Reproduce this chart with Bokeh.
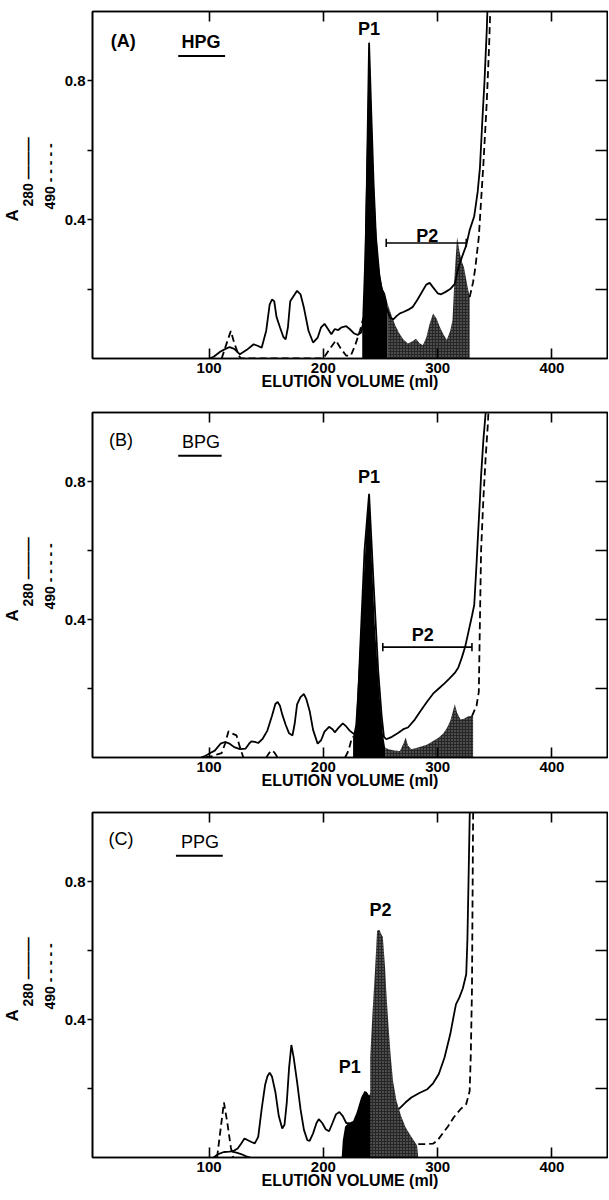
import math
from bokeh.plotting import figure
from bokeh.models import Range1d, FixedTicker, LinearAxis, Label, Title
from bokeh.layouts import column
from bokeh.embed import file_html
from bokeh.resources import INLINE

nan = float("nan")

# ---------------- data ----------------
x_ticks = [100, 200, 300, 400]
y_ticks = [0.2, 0.4, 0.6, 0.8]
y_tick_labels = {0.2: "", 0.4: "0.4", 0.6: "", 0.8: "0.8"}

# Panel A (HPG)
a280_A_x = [100, 104, 110, 114, 118, 122, 127, 133, 139, 143, 146, 150, 153, 155, 157, 159, 162, 165,
            167, 169, 171, 174, 177, 180, 183, 187, 191, 195, 198, 201, 204, 207, 210, 213, 216, 220,
            223, 227, 230, 233, 236, 238, 240, 242, 244, 246, 249, 252, 255, 258, 261, 264, 267, 270,
            274, 278, 282, 286, 290, 293, 296, 300, 303, 307, 311, 315, 318, 321, 325, 328, 332, 335,
            337, 339, 341, 343, 344]
a280_A_y = [0.0, 0.005, 0.02, 0.027, 0.033, 0.028, 0.012, 0.025, 0.041, 0.036, 0.031, 0.08, 0.155, 0.17,
            0.165, 0.12, 0.09, 0.062, 0.055, 0.09, 0.165, 0.18, 0.195, 0.185, 0.146, 0.08, 0.046, 0.06,
            0.09, 0.1, 0.085, 0.07, 0.085, 0.082, 0.09, 0.093, 0.085, 0.072, 0.068, 0.075, 0.12, 0.5,
            0.91, 0.7, 0.5, 0.35, 0.24, 0.18, 0.15, 0.12, 0.112, 0.122, 0.13, 0.134, 0.14, 0.148, 0.168,
            0.19, 0.213, 0.218, 0.205, 0.188, 0.185, 0.192, 0.2, 0.215, 0.26, 0.29, 0.326, 0.37, 0.41,
            0.48, 0.55, 0.68, 0.8, 0.95, 1.05]
a490_A_x = [111, 115, 119, 122, 126, 128, 200, 205, 211, 215, 220, 224, 228, 232, 235, nan,
            328, 331, 333, 336, 338, 340, 342, 343, 345, 346, 347]
a490_A_y = [0.0, 0.04, 0.079, 0.045, 0.008, 0.0, 0.0, 0.025, 0.052, 0.03, 0.008, 0.008, 0.04, 0.08, 0.117, nan,
            0.177, 0.22, 0.263, 0.35, 0.455, 0.56, 0.68, 0.742, 0.9, 1.0, 1.05]
p1_A_x = [234, 236, 238, 240, 242, 244, 246, 248, 250, 252, 254, 256]
p1_A_y = [0.11, 0.3, 0.6, 0.92, 0.72, 0.52, 0.38, 0.28, 0.23, 0.2, 0.187, 0.16]
p2_A_x = [256, 258, 260, 263, 266, 270, 274, 278, 281, 284, 287, 290, 293, 296, 299, 302, 305, 308,
          311, 313, 315, 317, 319, 321, 323, 326, 328]
p2_A_y = [0.16, 0.14, 0.12, 0.095, 0.075, 0.055, 0.043, 0.05, 0.057, 0.045, 0.038, 0.06, 0.1, 0.13,
          0.115, 0.09, 0.07, 0.053, 0.08, 0.11, 0.25, 0.35, 0.31, 0.28, 0.263, 0.21, 0.177]

# Panel B (BPG)
a280_B_x = [93, 97, 101, 105, 110, 114, 118, 122, 127, 132, 135, 137, 140, 143, 147, 151, 155, 158, 160,
            162, 164, 167, 170, 173, 175, 177, 180, 183, 185, 188, 191, 195, 198, 201, 205, 208, 210, 213,
            217, 220, 223, 226, 229, 232, 236, 240, 244, 248, 251, 253, 255, 260, 265, 270, 274, 280, 285,
            291, 296, 301, 306, 310, 315, 318, 321, 324, 327, 330, 332, 334, 335, 337, 338, 340, 342, 343]
a280_B_y = [0.0, 0.005, 0.013, 0.02, 0.04, 0.045, 0.04, 0.03, 0.024, 0.026, 0.04, 0.047, 0.045, 0.042,
            0.055, 0.078, 0.12, 0.155, 0.161, 0.15, 0.125, 0.095, 0.07, 0.064, 0.1, 0.154, 0.175, 0.184,
            0.17, 0.135, 0.08, 0.04, 0.05, 0.075, 0.089, 0.082, 0.073, 0.085, 0.099, 0.09, 0.078, 0.07,
            0.064, 0.3, 0.6, 0.764, 0.5, 0.25, 0.12, 0.06, 0.053, 0.06, 0.07, 0.082, 0.087, 0.11, 0.135,
            0.163, 0.185, 0.2, 0.215, 0.228, 0.245, 0.26, 0.288, 0.32, 0.365, 0.41, 0.442, 0.56, 0.625,
            0.75, 0.817, 0.92, 1.0, 1.05]
a490_B_x = [97, 104, 108, 111, 114, 117, 120, 124, 127, 130, nan, 150, 153, 155, 157, 160, nan,
            219, 222, 225, 226, nan, 330, 334, 336, 337, 338, 340, 342, 344, 345]
a490_B_y = [0.0, 0.005, 0.01, 0.013, 0.04, 0.076, 0.07, 0.064, 0.03, 0.0, nan, 0.0, 0.015, 0.021, 0.015, 0.0, nan,
            0.0, 0.02, 0.058, 0.06, nan, 0.12, 0.15, 0.19, 0.4, 0.6, 0.75, 0.87, 0.97, 1.05]
p1_B_x = [226, 228, 230, 233, 236, 238, 240, 242, 245, 248, 250, 252, 254]
p1_B_y = [0.06, 0.096, 0.2, 0.385, 0.56, 0.68, 0.764, 0.6, 0.385, 0.23, 0.144, 0.07, 0.029]
p2_B_x = [254, 257, 262, 267, 270, 272, 274, 277, 282, 287, 291, 296, 301, 305, 308, 311, 313, 315,
          317, 320, 323, 326, 328, 331]
p2_B_y = [0.029, 0.024, 0.02, 0.019, 0.04, 0.058, 0.035, 0.024, 0.028, 0.033, 0.038, 0.048, 0.058, 0.07,
          0.085, 0.106, 0.13, 0.154, 0.13, 0.11, 0.112, 0.118, 0.12, 0.12]

# Panel C (PPG)
a280_C_x = [104, 108, 113, 118, 122, 125, 128, 131, 134, 137, 140, 143, 146, 149, 151, 153, 155, 158,
            161, 164, 166, 168, 170, 172, 174, 177, 180, 183, 186, 188, 191, 194, 196, 199, 202, 205,
            208, 211, 214, 217, 220, 223, nan, 266, 272, 277, 284, 291, 296, 301, 306, 311, 314, 316,
            319, 322, 325, 326, 327, 328, 328.5]
a280_C_y = [0.0, 0.01, 0.016, 0.017, 0.02, 0.026, 0.04, 0.055, 0.05, 0.045, 0.041, 0.06, 0.14, 0.21,
            0.235, 0.246, 0.235, 0.19, 0.12, 0.084, 0.095, 0.16, 0.26, 0.326, 0.29, 0.219, 0.14, 0.08,
            0.05, 0.048, 0.07, 0.1, 0.111, 0.1, 0.082, 0.076, 0.1, 0.125, 0.132, 0.12, 0.1, 0.099, nan,
            0.14, 0.16, 0.174, 0.187, 0.198, 0.215, 0.242, 0.29, 0.357, 0.41, 0.444, 0.464, 0.49, 0.531,
            0.628, 0.8, 0.985, 1.05]
a280_arc_C_x = [120, 124, 128, 132, 136]
a280_arc_C_y = [0.017, 0.014, 0.01, 0.004, 0.0]
a490_C_x = [107, 110, 113, 116, 119, 121, nan, 283, 290, 296, 300, 304, 309, 314, 320, 325, 328, 329,
            330, 331, 331.3]
a490_C_y = [0.0, 0.08, 0.16, 0.1, 0.03, 0.0, nan, 0.039, 0.039, 0.04, 0.05, 0.068, 0.09, 0.116, 0.14,
            0.155, 0.193, 0.3, 0.483, 0.985, 1.05]
p1_C_x = [216, 217, 219, 222, 226, 229, 233, 236, 238, 240, 242]
p1_C_y = [0.0, 0.05, 0.09, 0.1, 0.106, 0.13, 0.174, 0.193, 0.19, 0.18, 0.19]
p2_C_x = [241, 243, 245, 247, 249, 251, 252, 254, 255, 257, 259, 261, 264, 268, 272, 276, 280, 282, 283]
p2_C_y = [0.29, 0.42, 0.53, 0.657, 0.66, 0.645, 0.64, 0.55, 0.483, 0.38, 0.29, 0.22, 0.164, 0.12,
          0.087, 0.065, 0.045, 0.035, 0.0]

FONT = "Liberation Sans"
FIG_W = 608
BORDER_L = 92
LW = 1.8


def make_panel(height, btop, bbot, tag, tag_bold, name, name_bold, name_ul,
               s_x, s_y, d_x, d_y, f1_x, f1_y, f2_x, f2_y, extra=None, labels=(), bracket=None):
    frame_h = height - btop - bbot
    p = figure(width=FIG_W, height=height, x_range=Range1d(-2, 448.6), y_range=Range1d(0, 1.0),
               output_backend="svg", toolbar_location=None,
               min_border_left=BORDER_L, min_border_right=1, min_border_top=btop, min_border_bottom=bbot)
    p.grid.visible = False
    p.outline_line_color = "black"
    p.outline_line_width = 1.6
    p.background_fill_color = "white"
    p.border_fill_color = "white"

    xa = p.xaxis[0]
    xa.ticker = FixedTicker(ticks=x_ticks)
    xa.major_tick_in = 10
    xa.major_tick_out = 0
    xa.minor_tick_line_color = None
    xa.axis_line_width = 1.6
    xa.major_tick_line_width = 1.6
    xa.major_label_text_font = FONT
    xa.major_label_text_font_style = "bold"
    xa.major_label_text_font_size = "15px"
    xa.major_label_text_color = "black"
    xa.major_label_standoff = 4
    xa.axis_label = "ELUTION VOLUME (ml)"
    xa.axis_label_text_font = FONT
    xa.axis_label_text_font_style = "bold"
    xa.axis_label_text_font_size = "16px"
    xa.axis_label_text_color = "black"
    xa.axis_label_standoff = -3

    ya = p.yaxis[0]
    ya.ticker = FixedTicker(ticks=y_ticks)
    ya.major_label_overrides = y_tick_labels
    ya.major_tick_in = 0
    ya.major_tick_out = 5
    ya.minor_tick_line_color = None
    ya.axis_line_width = 1.6
    ya.major_tick_line_width = 1.6
    ya.major_label_text_font = FONT
    ya.major_label_text_font_style = "bold"
    ya.major_label_text_font_size = "15px"
    ya.major_label_text_color = "black"
    ya.major_label_standoff = 2

    top = LinearAxis(ticker=FixedTicker(ticks=x_ticks), major_tick_in=10, major_tick_out=0,
                     minor_tick_line_color=None, major_label_text_font_size="0px",
                     major_label_standoff=0, axis_line_width=1.6, major_tick_line_width=1.6)
    p.add_layout(top, "above")
    right = LinearAxis(ticker=FixedTicker(ticks=y_ticks), major_tick_in=12, major_tick_out=0,
                       minor_tick_line_color=None, major_label_text_font_size="0px",
                       major_label_standoff=0, axis_line_width=1.6, major_tick_line_width=1.6)
    p.add_layout(right, "right")

    # y-axis legend texts, stacked outward from the axis
    p.add_layout(Title(text="490 - - - - -", align="left", offset=int(0.43 * frame_h),
                       text_font=FONT, text_font_style="bold", text_font_size="14px",
                       text_color="black", standoff=8), "left")
    p.add_layout(Title(text="280 ———", align="left", offset=int(0.44 * frame_h),
                       text_font=FONT, text_font_style="bold", text_font_size="14px",
                       text_color="black", standoff=0), "left")
    p.add_layout(Title(text="A", align="left", offset=int(0.395 * frame_h),
                       text_font=FONT, text_font_style="bold", text_font_size="17px",
                       text_color="black", standoff=-9), "left")

    # fills
    p.varea(x=f1_x, y1=0, y2=f1_y, fill_color="black")
    p.varea(x=f2_x, y1=0, y2=f2_y, fill_color="#262626",
            hatch_pattern="dot", hatch_color="white", hatch_scale=3, hatch_alpha=0.45, hatch_weight=0.6)

    p.line(s_x, s_y, line_color="black", line_width=LW)
    if extra is not None:
        p.line(extra[0], extra[1], line_color="black", line_width=LW)
    p.line(d_x, d_y, line_color="black", line_width=LW, line_dash="7 4")

    # P2 bracket
    if bracket is not None:
        bx0, bx1, by = bracket
        p.segment(x0=[bx0], y0=[by], x1=[bx1], y1=[by], line_color="black", line_width=1.6)
        p.segment(x0=[bx0, bx1], y0=[by - 0.012, by - 0.012], x1=[bx0, bx1], y1=[by + 0.012, by + 0.012],
                  line_color="black", line_width=1.6)

    for (lx, ly, txt) in labels:
        p.add_layout(Label(x=lx, y=ly, text=txt, text_align="center", text_baseline="middle",
                           text_font=FONT, text_font_style="bold", text_font_size="18px",
                           text_color="black"))

    # panel tag and sample name
    p.add_layout(Label(x=tag[0], y=tag[1], text=tag[2], text_align="center", text_baseline="middle",
                       text_font=FONT, text_font_style="bold" if tag_bold else "normal",
                       text_font_size="18px", text_color="black"))
    p.add_layout(Label(x=name[0], y=name[1], text=name[2], text_align="center", text_baseline="middle",
                       text_font=FONT, text_font_style="bold" if name_bold else "normal",
                       text_font_size="18px", text_color="black"))
    p.segment(x0=[name_ul[0]], y0=[name_ul[2]], x1=[name_ul[1]], y1=[name_ul[2]],
              line_color="black", line_width=2)
    return p


pA = make_panel(405, 11, 47, (25, 0.916, "(A)"), True, (93, 0.911, "HPG"), True, (73, 114, 0.872),
                a280_A_x, a280_A_y, a490_A_x, a490_A_y, p1_A_x, p1_A_y, p2_A_x, p2_A_y,
                labels=[(240, 0.95, "P1"), (291, 0.354, "P2")], bracket=(255, 325, 0.333))
pB = make_panel(400, 7, 48, (23, 0.919, "(B)"), False, (93, 0.914, "BPG"), False, (73, 111, 0.875),
                a280_B_x, a280_B_y, a490_B_x, a490_B_y, p1_B_x, p1_B_y, p2_B_x, p2_B_y,
                labels=[(240, 0.812, "P1"), (287, 0.354, "P2")], bracket=(252, 330, 0.32))
pC = make_panel(394, 7, 42, (23, 0.924, "(C)"), False, (92, 0.915, "PPG"), False, (71, 112, 0.875),
                a280_C_x, a280_C_y, a490_C_x, a490_C_y, p1_C_x, p1_C_y, p2_C_x, p2_C_y,
                extra=(a280_arc_C_x, a280_arc_C_y),
                labels=[(250, 0.716, "P2"), (223, 0.262, "P1")])

layout = column(pA, pB, pC, spacing=0)
open("out.html", "w").write(file_html(layout, INLINE))
